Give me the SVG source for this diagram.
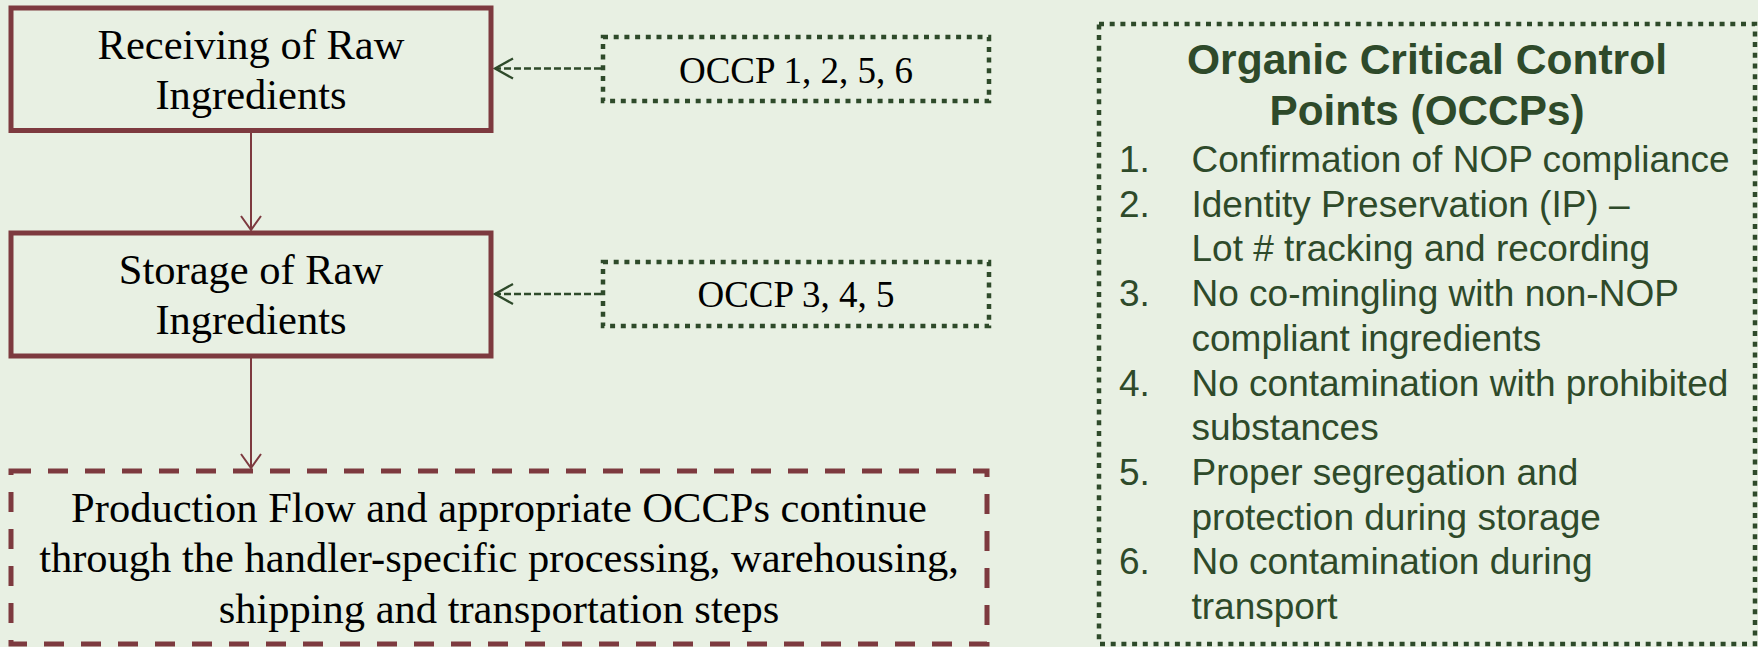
<svg xmlns="http://www.w3.org/2000/svg" width="1758" height="647" viewBox="0 0 1758 647">
<style>
.serif{font-family:"Liberation Serif","Times New Roman",serif;fill:#000;text-anchor:middle}
.box{fill:none;stroke:#7D3A3F;stroke-width:5}
.dash{fill:none;stroke:#7D3A3F;stroke-width:5}
.dash{stroke-dasharray:20 17}
.dot{fill:none;stroke:#2E4A2A;stroke-width:4.5;stroke-dasharray:5 5.7}
.sans{font-family:"Liberation Sans",Arial,sans-serif;fill:#2E4A2A}
.title{font-weight:bold;font-size:42.5px;text-anchor:middle}
.item{font-size:37px}
.flow{stroke:#7D3A3F;stroke-width:2;fill:none}
.ref{stroke:#2E4A2A;stroke-width:2.3;fill:none;stroke-dasharray:7 3}
</style>
<defs>
<marker id="mArr" markerUnits="userSpaceOnUse" viewBox="-20 -12 22 24" markerWidth="22" markerHeight="24" refX="0" refY="0" orient="auto" overflow="visible">
<path d="M-14,-10 L0,0 L-14,10" fill="none" stroke="#7D3A3F" stroke-width="2"/>
</marker>
<marker id="gArr" markerUnits="userSpaceOnUse" viewBox="-22 -12 24 24" markerWidth="24" markerHeight="24" refX="0" refY="0" orient="auto" overflow="visible">
<path d="M-18,-10 L0,0 L-18,10" fill="none" stroke="#2E4A2A" stroke-width="2.3"/>
</marker>
</defs>
<rect x="0" y="0" width="1758" height="647" fill="#E8F0E3"/>

<g id="connectors">
<line class="flow" x1="251" y1="133" x2="251" y2="230" marker-end="url(#mArr)"/>
<line class="flow" x1="251" y1="358" x2="251" y2="468" marker-end="url(#mArr)"/>
<line class="ref" x1="601" y1="68.5" x2="495" y2="68.5" marker-end="url(#gArr)"/>
<line class="ref" x1="601" y1="294" x2="495" y2="294" marker-end="url(#gArr)"/>
</g>

<g id="receiving">
<rect class="box" x="11" y="8" width="480" height="122.5"/>
<text class="serif" font-size="42.5" x="251" y="59">Receiving of Raw</text>
<text class="serif" font-size="42.5" x="251" y="109">Ingredients</text>
</g>

<g id="storage">
<rect class="box" x="11" y="233" width="480" height="123"/>
<text class="serif" font-size="42.5" x="251" y="284">Storage of Raw</text>
<text class="serif" font-size="42.5" x="251" y="334">Ingredients</text>
</g>

<g id="production">
<rect class="dash" x="11" y="471" width="976" height="173"/>
<text class="serif" font-size="42.5" x="499" y="522">Production Flow and appropriate OCCPs continue</text>
<text class="serif" font-size="42.5" x="499" y="572">through the handler-specific processing, warehousing,</text>
<text class="serif" font-size="42.5" x="499" y="623">shipping and transportation steps</text>
</g>

<g id="occp-a">
<rect class="dot" x="603" y="37" width="386" height="64"/>
<text class="serif" font-size="37" x="796" y="83">OCCP 1, 2, 5, 6</text>
</g>

<g id="occp-b">
<rect class="dot" x="603" y="262" width="386" height="64"/>
<text class="serif" font-size="37" x="796" y="307">OCCP 3, 4, 5</text>
</g>

<g id="legend">
<rect class="dot" x="1099" y="24" width="656" height="620"/>
<text class="sans title" x="1427" y="74" textLength="480" lengthAdjust="spacingAndGlyphs">Organic Critical Control</text>
<text class="sans title" x="1427" y="125" textLength="315" lengthAdjust="spacingAndGlyphs">Points (OCCPs)</text>
<g class="sans item">
<text x="1119" y="172">1.</text><text x="1191.5" y="172">Confirmation of NOP compliance</text>
<text x="1119" y="216.7">2.</text><text x="1191.5" y="216.7">Identity Preservation (IP) –</text>
<text x="1191.5" y="261.4">Lot # tracking and recording</text>
<text x="1119" y="306.1">3.</text><text x="1191.5" y="306.1">No co-mingling with non-NOP</text>
<text x="1191.5" y="350.8">compliant ingredients</text>
<text x="1119" y="395.5">4.</text><text x="1191.5" y="395.5">No contamination with prohibited</text>
<text x="1191.5" y="440.2">substances</text>
<text x="1119" y="484.9">5.</text><text x="1191.5" y="484.9">Proper segregation and</text>
<text x="1191.5" y="529.6">protection during storage</text>
<text x="1119" y="574.3">6.</text><text x="1191.5" y="574.3">No contamination during</text>
<text x="1191.5" y="619">transport</text>
</g>
</g>
</svg>
